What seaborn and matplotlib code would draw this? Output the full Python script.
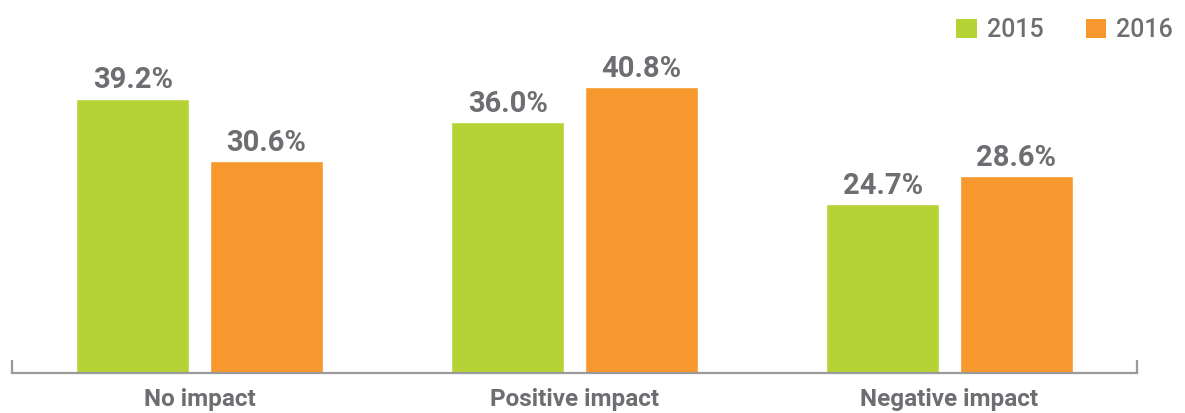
import matplotlib
matplotlib.use("Agg")
import matplotlib.pyplot as plt
import seaborn as sns
import pandas as pd
from matplotlib.patches import Patch

categories = ["No impact", "Positive impact", "Negative impact"]
years = ["2015", "2016"]
values_2015 = [39.2, 36.0, 24.7]
values_2016 = [30.6, 40.8, 28.6]

GREEN = "#b5d334"
ORANGE = "#f7982e"
TEXT = "#6d6e71"
AXIS = "#9a9a9a"

df = pd.DataFrame({
    "category": categories * 2,
    "year": [years[0]] * 3 + [years[1]] * 3,
    "value": values_2015 + values_2016,
})

sns.set_theme(style="white")
plt.rcParams["font.family"] = ["Roboto", "DejaVu Sans"]

W, H = 1185, 413
fig = plt.figure(figsize=(W / 100, H / 100), dpi=100)
ax = fig.add_axes([12 / W, (H - 373) / H, 1125 / W, 373 / H])

sns.barplot(data=df, x="category", y="value", hue="year", order=categories,
            hue_order=years, palette=[GREEN, ORANGE], width=0.712, gap=0.155,
            saturation=1, ax=ax, legend=False)

for cont in ax.containers:
    ax.bar_label(cont, labels=[f"{v:.1f}%" for v in cont.datavalues],
                 padding=3, fontsize=21, fontweight="bold", color=TEXT)

ax.set_ylim(1.6, 1.6 + 373 / 7.3)
ax.set_xlim(-0.5, 2.5)
ax.set_xlabel("")
ax.set_ylabel("")
ax.set_yticks([])
for s in ["top", "right", "left"]:
    ax.spines[s].set_visible(False)
ax.spines["bottom"].set_color(AXIS)
ax.spines["bottom"].set_linewidth(1.6)
ax.tick_params(axis="x", which="major", length=0, pad=11, labelsize=17.5,
               labelcolor=TEXT)
for lbl in ax.get_xticklabels():
    lbl.set_fontweight("bold")
ax.set_xticks([-0.5, 2.5], minor=True)
ax.tick_params(axis="x", which="minor", direction="in", length=9.5,
               width=1.6, color=AXIS, bottom=True)

handles = [Patch(facecolor=GREEN, edgecolor="none", label=years[0]),
           Patch(facecolor=ORANGE, edgecolor="none", label=years[1])]
fig.legend(handles=handles, loc="upper right", bbox_to_anchor=(1.009, 1.01),
           ncol=2, frameon=False, fontsize=18, labelcolor=TEXT,
           prop={"weight": "medium", "size": 18},
           handlelength=0.82, handleheight=0.82, handletextpad=0.4,
           columnspacing=1.7)

fig.savefig("out.png", dpi=100)
